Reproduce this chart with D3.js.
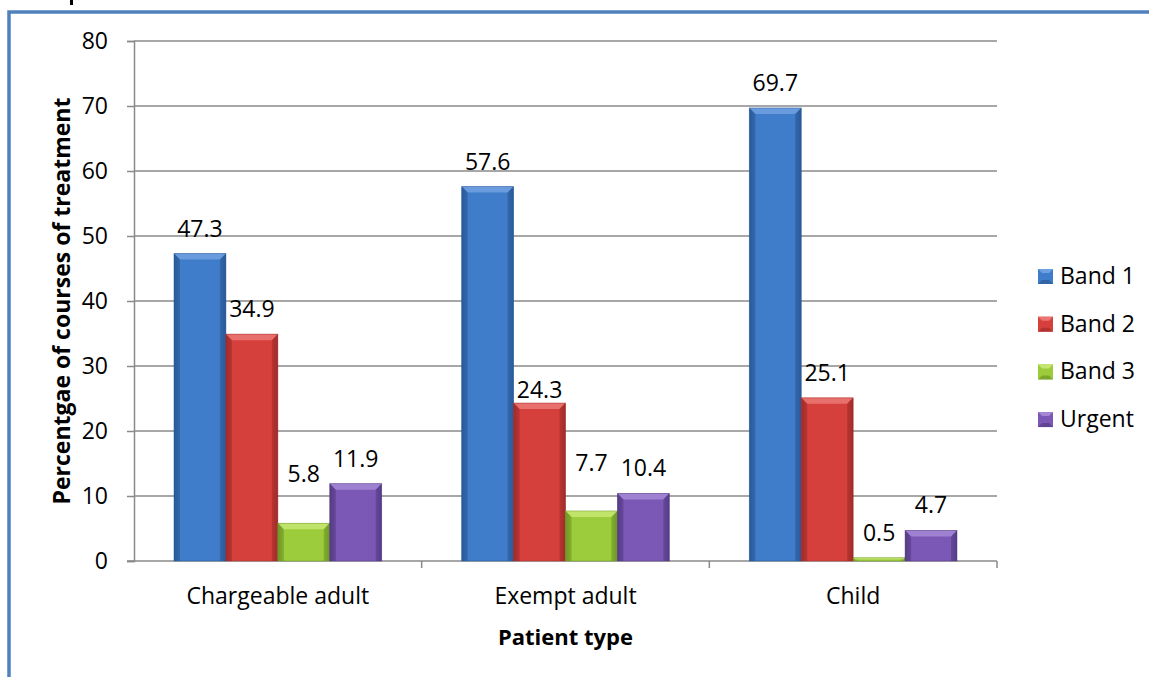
<!DOCTYPE html>
<html>
<head>
<meta charset="utf-8">
<script src="https://cdn.jsdelivr.net/npm/d3@7"></script>
<style>
  html, body { margin: 0; padding: 0; background: #fff; }
  svg { display: block; font-family: "Open Sans", "Liberation Sans", sans-serif; }
</style>
</head>
<body>
<svg id="chart" width="1149" height="677"></svg>
<script>
// Patient types along the x axis
const categories = ["Chargeable adult", "Exempt adult", "Child"];
// Treatment bands (one bar per band in each patient group)
const seriesNames = ["Band 1", "Band 2", "Band 3", "Urgent"];
const band1 = [47.3, 57.6, 69.7];
const band2 = [34.9, 24.3, 25.1];
const band3 = [5.8, 7.7, 0.5];
const urgent = [11.9, 10.4, 4.7];
const yTicks = [0, 10, 20, 30, 40, 50, 60, 70, 80];

const seriesValues = [band1, band2, band3, urgent];
const palette = [
  { base: "#3F7CC9", light: "#6E9FE0", dark: "#2A5A98" },
  { base: "#D6403C", light: "#EA7571", dark: "#A12C2A" },
  { base: "#9CCB3B", light: "#C4E56F", dark: "#6F9726" },
  { base: "#7B58B5", light: "#A386D4", dark: "#553C86" }
];
// Hand-nudged vertical label offsets (series index -> per category)
const labelNudge = [[0, 0, 0], [0, 12, 0], [-24, -23, 0], [0, 0, 0]];
const FONT = 23;

const svg = d3.select("#chart");
const defs = svg.append("defs");

// Horizontal shading for each bar colour (darker edges, lighter middle)
palette.forEach((c, i) => {
  const g = defs.append("linearGradient").attr("id", "bar-grad-" + i)
    .attr("x1", "0").attr("x2", "1").attr("y1", "0").attr("y2", "0");
  g.append("stop").attr("offset", "0").attr("stop-color", c.dark);
  g.append("stop").attr("offset", "0.12").attr("stop-color", c.base);
  g.append("stop").attr("offset", "0.88").attr("stop-color", c.base);
  g.append("stop").attr("offset", "1").attr("stop-color", c.dark);
});

// Outer frame of the chart object
svg.append("rect")
  .attr("x", 9).attr("y", 12)
  .attr("width", 1200).attr("height", 700)
  .attr("fill", "none").attr("stroke", "#4F81BD").attr("stroke-width", 3.5);
// Descender of the heading above the frame
svg.append("line")
  .attr("x1", 71.5).attr("x2", 71.5).attr("y1", 0).attr("y2", 5)
  .attr("stroke", "#000").attr("stroke-width", 3);

const plot = { left: 134, right: 997, top: 41, bottom: 561 };

const x0 = d3.scaleBand().domain(categories)
  .range([plot.left, plot.right]).paddingInner(0).paddingOuter(0);
const groupPad = 40;
const x1 = d3.scaleBand().domain(seriesNames)
  .range([groupPad, x0.bandwidth() - groupPad]).padding(0);
const y = d3.scaleLinear().domain([0, 80]).range([plot.bottom, plot.top]);

// Horizontal gridlines
svg.append("g")
  .selectAll("line").data(yTicks.filter(t => t > 0)).join("line")
  .attr("x1", plot.left).attr("x2", plot.right)
  .attr("y1", d => y(d)).attr("y2", d => y(d))
  .attr("stroke", "#8A8A8A").attr("stroke-width", 1.5);

// Y axis
const yAxis = svg.append("g").attr("transform", `translate(${plot.left},0)`)
  .call(d3.axisLeft(y).tickValues(yTicks).tickSize(7).tickPadding(19).tickFormat(d3.format("d")));
yAxis.select(".domain").attr("stroke", "#8A8A8A").attr("stroke-width", 1.5);
yAxis.selectAll(".tick line").attr("stroke", "#8A8A8A").attr("stroke-width", 1.5);
yAxis.selectAll(".tick text").attr("font-size", FONT).attr("fill", "#000")
  .attr("font-family", "'Open Sans', sans-serif");

// X axis with tick marks at category boundaries
const xAxisG = svg.append("g").attr("transform", `translate(0,${plot.bottom})`);
xAxisG.append("line").attr("x1", plot.left - 7).attr("x2", plot.right)
  .attr("stroke", "#8A8A8A").attr("stroke-width", 1.5);
const boundaries = categories.map(c => x0(c) + x0.bandwidth());
xAxisG.selectAll("line.tick").data(boundaries).join("line").attr("class", "tick")
  .attr("x1", d => d).attr("x2", d => d).attr("y1", 0).attr("y2", 7)
  .attr("stroke", "#8A8A8A").attr("stroke-width", 1.5);
xAxisG.selectAll("text").data(categories).join("text")
  .attr("x", d => x0(d) + x0.bandwidth() / 2).attr("y", 43)
  .attr("text-anchor", "middle").attr("font-size", FONT).attr("fill", "#000")
  .text(d => d);

// Axis titles
svg.append("text")
  .attr("transform", `translate(70,${(plot.top + plot.bottom) / 2}) rotate(-90)`)
  .attr("text-anchor", "middle").attr("font-size", FONT).attr("font-weight", "bold")
  .text("Percentgae of courses of treatment");
svg.append("text")
  .attr("x", (plot.left + plot.right) / 2).attr("y", 645)
  .attr("text-anchor", "middle").attr("font-size", FONT - 1).attr("font-weight", "bold")
  .text("Patient type");

// Bars with a bevelled top edge
const bars = [];
seriesValues.forEach((vals, si) => {
  vals.forEach((v, ci) => {
    bars.push({ s: si, c: ci, name: seriesNames[si], cat: categories[ci], value: v });
  });
});

const barG = svg.append("g").selectAll("g.bar").data(bars).join("g").attr("class", "bar");
barG.each(function (d) {
  const g = d3.select(this);
  const bx = x0(d.cat) + x1(d.name);
  const bw = x1.bandwidth();
  const by = y(d.value);
  const bh = y(0) - by;
  const c = palette[d.s];
  g.append("rect").attr("x", bx).attr("y", by).attr("width", bw).attr("height", bh)
    .attr("fill", `url(#bar-grad-${d.s})`);
  const bev = Math.min(6, bh / 2);
  if (bh > 2) {
    // Top bevel face
    g.append("polygon")
      .attr("points", [[bx, by], [bx + bw, by], [bx + bw - bev, by + bev], [bx + bev, by + bev]].join(" "))
      .attr("fill", c.light).attr("opacity", 0.9);
    // Side faces
    g.append("polygon")
      .attr("points", [[bx, by], [bx + bev, by + bev], [bx + bev, by + bh], [bx, by + bh]].join(" "))
      .attr("fill", c.dark).attr("opacity", 0.55);
    g.append("polygon")
      .attr("points", [[bx + bw, by], [bx + bw - bev, by + bev], [bx + bw - bev, by + bh], [bx + bw, by + bh]].join(" "))
      .attr("fill", c.dark).attr("opacity", 0.55);
  }
  g.append("rect").attr("x", bx).attr("y", by).attr("width", bw).attr("height", bh)
    .attr("fill", "none").attr("stroke", c.dark).attr("stroke-width", 0.8).attr("opacity", 0.6);
  // Value label
  g.append("text")
    .attr("x", bx + bw / 2).attr("y", by - 17 + labelNudge[d.s][d.c])
    .attr("text-anchor", "middle").attr("font-size", FONT).attr("fill", "#000")
    .text(d3.format(".1f")(d.value));
});

// Legend
const legend = svg.append("g").attr("transform", "translate(1038,276)");
const legendItems = legend.selectAll("g").data(seriesNames).join("g")
  .attr("transform", (d, i) => `translate(0,${i * 47.7})`);
legendItems.each(function (d, i) {
  const g = d3.select(this);
  const c = palette[i];
  g.append("rect").attr("x", 0).attr("y", -7).attr("width", 15).attr("height", 15).attr("fill", c.base);
  g.append("polygon").attr("points", "0,-7 15,-7 11,-3 4,-3").attr("fill", c.light);
  g.append("polygon").attr("points", "0,8 15,8 11,4 4,4").attr("fill", c.dark).attr("opacity", 0.7);
  g.append("text").attr("x", 22).attr("y", 0).attr("dy", "0.35em")
    .attr("font-size", FONT).attr("fill", "#000").text(d);
});
</script>
</body>
</html>
